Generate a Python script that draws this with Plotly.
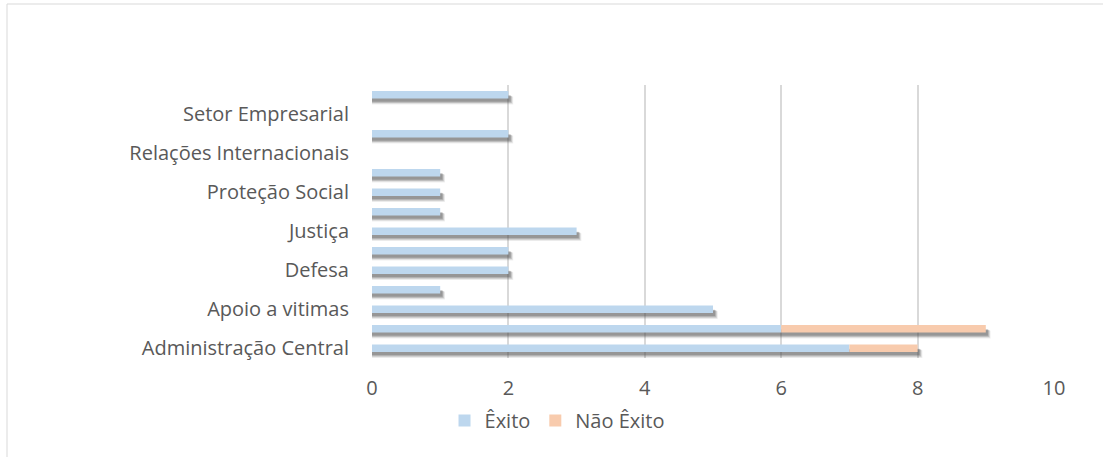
import plotly.graph_objects as go

# Áreas por ordem (de baixo para cima); apenas metade dos rótulos é mostrada
categorias = [
    "Administração Central", "Administração Local", "Apoio a vitimas", "Cultura",
    "Defesa", "Educação", "Justiça", "Planeamento", "Proteção Social",
    "Recursos Humanos", "Relações Internacionais", "Saúde", "Setor Empresarial",
    "Trabalho",
]
exito = [7, 6, 5, 1, 2, 2, 3, 1, 1, 1, 0, 2, 0, 2]
nao_exito = [1, 3, 0, 0, 0, 0, 0, 0, 0, 0, 0, 0, 0, 0]
x_ticks = [0, 2, 4, 6, 8, 10]

cor_exito = "#BDD7EE"
cor_nao = "#F8CBAD"
cinza_texto = "#595959"
font_family = "Open Sans"

pos = list(range(len(categorias)))
totais = [a + b for a, b in zip(exito, nao_exito)]
largura = 0.39

fig = go.Figure()

# sombra desfocada por baixo das barras: camadas semitransparentes
# (deslocamento vertical, extensão à direita, espessura, opacidade)
sombra = [
    (0.30, 0.07, 0.40, 0.08),
    (0.27, 0.06, 0.38, 0.12),
    (0.24, 0.05, 0.36, 0.16),
    (0.21, 0.04, 0.34, 0.20),
    (0.18, 0.03, 0.32, 0.24),
]
for dy, dx, w, op in sombra:
    fig.add_trace(go.Bar(
        y=[p - dy for p in pos], x=[t + dx if t > 0 else 0 for t in totais],
        base=0, orientation="h", width=w,
        marker=dict(color="#505050", line_width=0), opacity=op,
        showlegend=False, hoverinfo="skip",
    ))

fig.add_trace(go.Bar(
    y=pos, x=exito, base=0, orientation="h", width=largura, name="Êxito",
    marker=dict(color=cor_exito, line_width=0),
))
fig.add_trace(go.Bar(
    y=pos, x=nao_exito, base=exito, orientation="h", width=largura, name="Não Êxito",
    marker=dict(color=cor_nao, line_width=0),
))

fig.update_layout(
    width=1103, height=457,
    margin=dict(l=372, r=49, t=85, b=99, autoexpand=False),
    barmode="overlay",
    plot_bgcolor="white", paper_bgcolor="white",
    font=dict(family=font_family, color=cinza_texto, size=20),
    showlegend=True,
    legend=dict(
        orientation="h", xref="container", x=0.505, xanchor="center",
        yref="container", y=0.08, yanchor="middle",
        font=dict(size=20, color=cinza_texto), traceorder="normal",
        itemwidth=30,
    ),
    shapes=[dict(
        type="rect", xref="paper", yref="paper",
        x0=(7 - 372) / 682, x1=(1130 - 372) / 682,
        y0=(358 - 490) / 273, y1=(358 - 4) / 273,
        line=dict(color="#D9D9D9", width=1), layer="below",
    )],
)

fig.update_xaxes(
    range=[0, 10], tickvals=x_ticks, showgrid=True, gridcolor="#D9D9D9", gridwidth=1.5,
    zeroline=False, showline=False, ticks="", tickfont=dict(size=20, color=cinza_texto),
    ticklabelstandoff=16, automargin=False,
)
fig.update_yaxes(
    range=[-0.5, len(categorias) - 0.5],
    tickvals=pos[::2], ticktext=categorias[::2],
    showgrid=False, zeroline=False, showline=False, ticks="",
    tickfont=dict(size=20, color=cinza_texto), ticklabelstandoff=22, automargin=False,
)

fig.write_html("out.html")
